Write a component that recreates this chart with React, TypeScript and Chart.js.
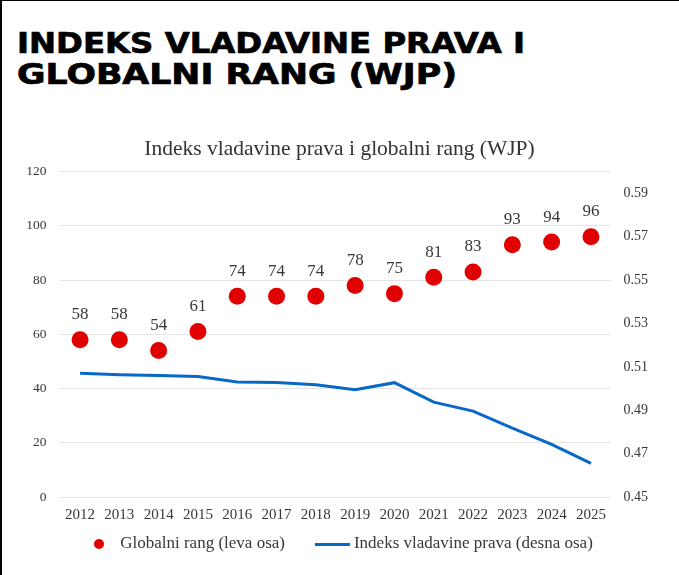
import React, { useEffect, useMemo, useRef } from 'react';
import { Chart, registerables } from 'chart.js';

Chart.register(...registerables);

const YEARS = ['2012', '2013', '2014', '2015', '2016', '2017', '2018', '2019', '2020', '2021', '2022', '2023', '2024', '2025'];
const RANK = [58, 58, 54, 61, 74, 74, 74, 78, 75, 81, 83, 93, 94, 96];
const INDEX = [0.507, 0.5064, 0.506, 0.5055, 0.503, 0.5028, 0.5017, 0.4995, 0.5027, 0.4937, 0.4896, 0.4817, 0.4743, 0.4655];
const LEFT_TICKS = [0, 20, 40, 60, 80, 100, 120];
const RIGHT_TICKS = [0.45, 0.47, 0.49, 0.51, 0.53, 0.55, 0.57, 0.59];
const HEADER_LINES = ['INDEKS VLADAVINE PRAVA I', 'GLOBALNI RANG (WJP)'];
const TITLE = 'Indeks vladavine prava i globalni rang (WJP)';
const SERIES_NAMES = ['Globalni rang (leva osa)', 'Indeks vladavine prava (desna osa)'];

const SERIF = '"Liberation Serif", "Times New Roman", serif';
const HEADER_FONT_FAMILY = '"DejaVu Sans", sans-serif';
const HEADER_SIZE = 27.5;
const HEADER_WIDTHS = [508, 440];
const RED = '#E00000';
const BLUE = '#0868C8';
const TEXT = '#383838';

export default function App() {
  const ref = useRef<HTMLCanvasElement | null>(null);

  const headerScales = useMemo(() => {
    const ctx = document.createElement('canvas').getContext('2d');
    if (!ctx) return [1.2, 1.2];
    ctx.font = `bold ${HEADER_SIZE}px ${HEADER_FONT_FAMILY}`;
    return HEADER_LINES.map((t, i) => HEADER_WIDTHS[i] / ctx.measureText(t).width);
  }, []);

  useEffect(() => {
    if (!ref.current) return;
    const dot = document.createElement('canvas');
    dot.width = 12;
    dot.height = 12;
    const dg = dot.getContext('2d')!;
    dg.fillStyle = RED;
    dg.beginPath();
    dg.arc(6, 6, 5, 0, Math.PI * 2);
    dg.fill();

    const seg = document.createElement('canvas');
    seg.width = 35;
    seg.height = 3;
    const sg = seg.getContext('2d')!;
    sg.fillStyle = BLUE;
    sg.fillRect(0, 0, 35, 3);

    const valueLabels = {
      id: 'valueLabels',
      afterDatasetsDraw(chart: any) {
        const meta = chart.getDatasetMeta(0);
        const ctx = chart.ctx;
        ctx.save();
        ctx.font = `17px ${SERIF}`;
        ctx.fillStyle = TEXT;
        ctx.textAlign = 'center';
        ctx.textBaseline = 'middle';
        meta.data.forEach((pt: any, i: number) => {
          ctx.fillText(String(RANK[i]), pt.x, pt.y - 25);
        });
        ctx.restore();
      },
    };

    const chart = new Chart(ref.current, {
      type: 'line',
      data: {
        labels: YEARS,
        datasets: [
          {
            label: SERIES_NAMES[0],
            data: RANK,
            yAxisID: 'y',
            showLine: false,
            pointRadius: 8.5,
            pointHoverRadius: 8.5,
            pointBorderWidth: 0,
            pointBackgroundColor: RED,
            backgroundColor: RED,
            borderColor: RED,
          },
          {
            label: SERIES_NAMES[1],
            data: INDEX,
            yAxisID: 'y1',
            borderColor: BLUE,
            backgroundColor: BLUE,
            borderWidth: 3,
            pointRadius: 0,
            pointHoverRadius: 0,
            tension: 0,
          },
        ],
      },
      options: {
        animation: false,
        responsive: false,
        layout: { padding: { top: 0, bottom: 12.5, left: 0, right: 0 } },
        plugins: {
          title: {
            display: true,
            text: TITLE,
            color: '#333',
            font: { family: SERIF, size: 21.5, weight: 'normal' },
            padding: { top: 16.1, bottom: 9.7 },
          },
          legend: {
            position: 'bottom',
            labels: {
              usePointStyle: true,
              pointStyleWidth: 25.5,
              boxHeight: 14,
              padding: 35,
              color: TEXT,
              font: { family: SERIF, size: 17 },
              generateLabels(c: any) {
                const items = (Chart.defaults.plugins.legend.labels as any).generateLabels(c);
                items[0].pointStyle = dot;
                items[1].pointStyle = seg;
                return items;
              },
            },
          },
          tooltip: { enabled: false },
        },
        scales: {
          x: {
            offset: true,
            grid: { display: false, drawTicks: false },
            border: { display: false },
            ticks: {
              color: TEXT,
              font: { family: SERIF, size: 15 },
              mirror: true,
              padding: -27,
              maxRotation: 0,
              autoSkip: false,
            },
            afterFit(s: any) { s.height = 3.5; },
          },
          y: {
            position: 'left',
            min: 0,
            max: 120,
            afterBuildTicks(s: any) { s.ticks = LEFT_TICKS.map((v) => ({ value: v })); },
            grid: { color: '#e4e4e4', lineWidth: 1, drawTicks: false },
            border: { display: false },
            ticks: { color: TEXT, font: { family: SERIF, size: 13.5 }, padding: 14 },
            afterFit(s: any) { s.width = 60.4; },
          },
          y1: {
            position: 'right',
            min: 0.45,
            max: 0.6,
            afterBuildTicks(s: any) { s.ticks = RIGHT_TICKS.map((v) => ({ value: v })); },
            grid: { display: false, drawTicks: false },
            border: { display: false },
            ticks: {
              color: TEXT,
              font: { family: SERIF, size: 14 },
              padding: 13,
              callback: (v: any) => Number(v).toFixed(2),
            },
            afterFit(s: any) { s.width = 68.4; },
          },
        },
      } as any,
      plugins: [valueLabels],
    });
    return () => chart.destroy();
  }, []);

  const headerLine = (text: string, top: number, scale: number) => (
    <div
      style={{
        position: 'absolute',
        left: 17,
        top,
        fontFamily: HEADER_FONT_FAMILY,
        fontWeight: 'bold',
        fontSize: HEADER_SIZE,
        lineHeight: `${HEADER_SIZE}px`,
        whiteSpace: 'nowrap',
        color: '#000',
        WebkitTextStroke: '0.7px #000',
        transform: `scaleX(${scale})`,
        transformOrigin: 'left top',
      }}
    >
      {text}
    </div>
  );

  return (
    <div
      style={{
        position: 'fixed',
        left: 0,
        top: 0,
        width: 679,
        height: 575,
        background: '#fff',
        overflow: 'hidden',
      }}
    >
      <div style={{ position: 'absolute', left: 0, top: 0, width: 679, height: 1, background: '#000' }} />
      <div style={{ position: 'absolute', left: 0, top: 0, width: 2, height: 575, background: '#000' }} />
      {headerLine(HEADER_LINES[0], 30.1, headerScales[0])}
      {headerLine(HEADER_LINES[1], 61.1, headerScales[1])}
      <div style={{ position: 'absolute', left: 0, top: 120, width: 679, height: 455 }}>
        <canvas ref={ref} width={679} height={455} style={{ width: 679, height: 455 }} />
      </div>
    </div>
  );
}
